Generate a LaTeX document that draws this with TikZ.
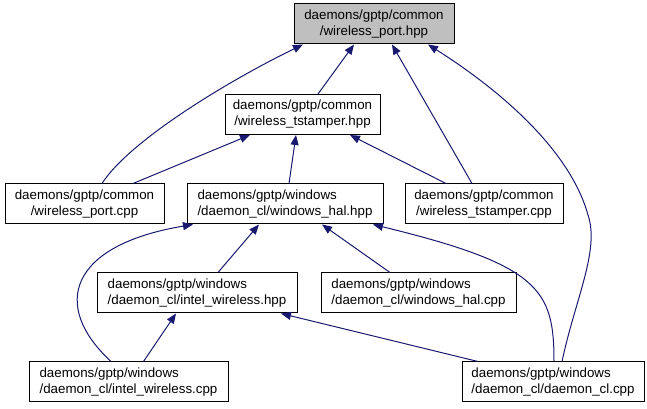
\documentclass[tikz,border=0pt]{standalone}
\usepackage{fontspec}
\setmainfont{Liberation Sans}
\usetikzlibrary{arrows.meta,calc}
\definecolor{depblue}{HTML}{191970}
\definecolor{rootgrey}{HTML}{BFBFBF}

\begin{document}
\begin{tikzpicture}[
  x=0.75pt, y=-0.75pt,
  font=\fontsize{10}{12}\selectfont,
  file/.style={draw=black, line width=0.75pt, fill=white, inner sep=2pt,
               minimum height=30pt},
  common/.style={file, align=center},
  win/.style={file, align=left},
  dep/.style={-{Triangle[length=7.5pt, width=6pt]}, depblue, line width=0.75pt},
]
\useasboundingbox (0,0) rectangle (647,409);

% ---------------- files --------------------------------------------
\node[common, fill=rootgrey, minimum width=120pt] (wphpp) at (374,24)
  {daemons/gptp/common\\/wireless\_port.hpp};
\node[common, minimum width=116.25pt] (wthpp) at (302.5,114.5)
  {daemons/gptp/common\\/wireless\_tstamper.hpp};
\node[common, minimum width=119.25pt] (wpcpp) at (84.5,204)
  {daemons/gptp/common\\/wireless\_port.cpp};
\node[win, minimum width=147pt] (whhpp) at (285,204)
  {daemons/gptp/windows\\/daemon\_cl/windows\_hal.hpp};
\node[common, minimum width=118.5pt] (wtcpp) at (484,204)
  {daemons/gptp/common\\/wireless\_tstamper.cpp};
\node[win, minimum width=150pt] (iwhpp) at (197,293)
  {daemons/gptp/windows\\/daemon\_cl/intel\_wireless.hpp};
\node[win, minimum width=146.25pt] (whcpp) at (418.5,293)
  {daemons/gptp/windows\\/daemon\_cl/windows\_hal.cpp};
\node[win, minimum width=149.25pt] (iwcpp) at (128.5,382)
  {daemons/gptp/windows\\/daemon\_cl/intel\_wireless.cpp};
\node[win, minimum width=136.5pt] (dccpp) at (553,382)
  {daemons/gptp/windows\\/daemon\_cl/daemon\_cl.cpp};

% ---------------- includes of wireless_port.hpp --------------------
\draw[dep] ($(wpcpp.north)+(17.5,0)$) .. controls (130,140) and (230,80)
  .. ($(wphpp.south)+(-71,0)$);
\draw[dep] ($(wthpp.north)+(15.5,0)$) -- ($(wphpp.south)+(-20,0)$);
\draw[dep] ($(wtcpp.north)+(-12,0)$) -- ($(wphpp.south)+(18,0)$);
\draw[dep] ($(dccpp.north)+(9,0)$) .. controls (575,300) and (600,250)
  .. (588,215) .. controls (570,150) and (500,90) .. ($(wphpp.south)+(54,0)$);

% ---------------- includes of wireless_tstamper.hpp ----------------
\draw[dep] ($(wpcpp.north)+(48.5,0)$) -- ($(wthpp.south)+(-52.5,0)$);
\draw[dep] ($(whhpp.north)+(4,0)$) -- ($(wthpp.south)+(-6.5,0)$);
\draw[dep] ($(wtcpp.north)+(-38,0)$) -- ($(wthpp.south)+(47.5,0)$);

% ---------------- includes of windows_hal.hpp ----------------------
\draw[dep] ($(iwhpp.north)+(21,0)$) -- ($(whhpp.south)+(-26,0)$);
\draw[dep] ($(whcpp.north)+(-28.5,0)$) -- ($(whhpp.south)+(37,0)$);
\draw[dep] ($(iwcpp.north)+(-17.5,0)$) .. controls (50,305) and (70,245)
  .. ($(whhpp.south)+(-92,0)$);
\draw[dep] ($(dccpp.north)+(1,0)$) .. controls (554,290) and (540,265)
  .. ($(whhpp.south)+(88,0)$);

% ---------------- includes of intel_wireless.hpp -------------------
\draw[dep] ($(iwcpp.north)+(15,0)$) -- ($(iwhpp.south)+(-21,0)$);
\draw[dep] ($(dccpp.north)+(-75,0)$) -- ($(iwhpp.south)+(84,0)$);

\end{tikzpicture}
\end{document}
